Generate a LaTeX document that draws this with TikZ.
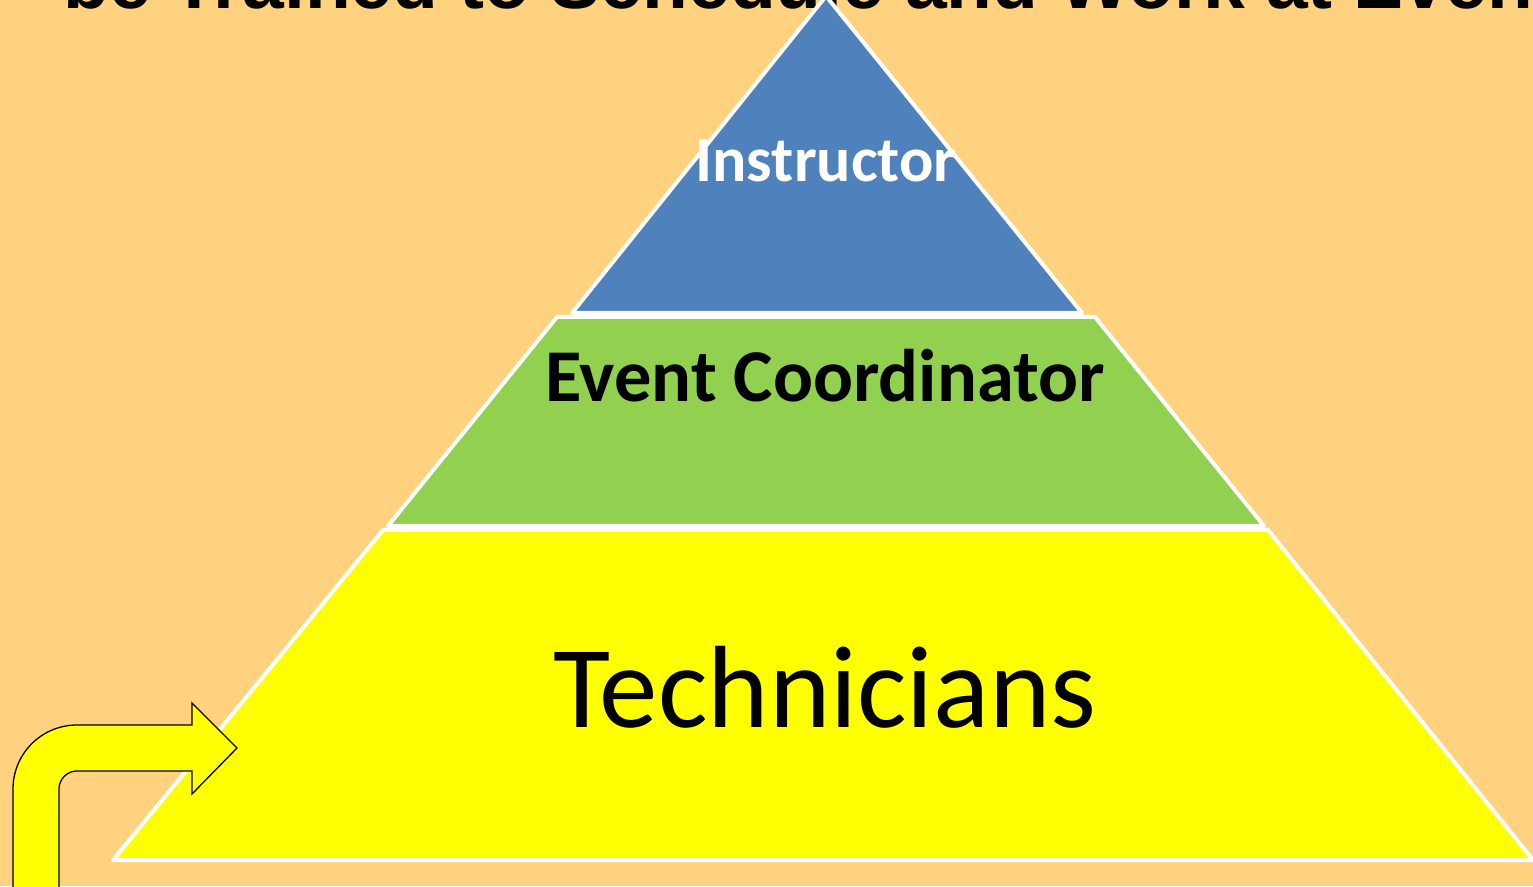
\documentclass[tikz,border=0pt]{standalone}
\usepackage{fontspec}
\usepackage{tikz}
\setmainfont{Carlito}
\newfontfamily\headfont{Liberation Sans}
\definecolor{bgorange}{HTML}{FFD280}
\definecolor{topblue}{HTML}{4F81BD}
\definecolor{midgreen}{HTML}{92D050}
\definecolor{lowyellow}{HTML}{FFFF00}
\tikzset{
  level/.style={draw=white, line width=4pt, line join=round},
  label text/.style={inner sep=0pt, anchor=base},
  bentarrow/.style={fill=lowyellow, draw=black, line width=1.3pt, line join=miter}
}

\begin{document}
\begin{tikzpicture}[x=1pt, y=1pt]
  \useasboundingbox (0,0) rectangle (1533,886);
  \clip (0,0) rectangle (1533,886);
  \fill [bgorange] (0,0) rectangle (1533,886);
  % title line, cut at the top
  \node (title) at (63,877)[inner sep=0pt, anchor=base west]{\headfont\bfseries\fontsize{75}{82}\selectfont be Trained to Schedule and Work at Events};
  % pyramid levels
  \draw [level, fill=lowyellow] (383,356) -- (1268,356) -- (1533,26) -- (113,26) -- cycle;
  \draw [level, fill=midgreen] (557,569) -- (1095,569) -- (1264,360) -- (388,360) -- cycle;
  \draw [level, fill=topblue] (826,890) -- (1082,573) -- (572,573) -- cycle;
  \node (instructor) at (826,704)[label text, text=white]{\bfseries\fontsize{64}{70}\selectfont Instructor};
  \node (coordinator) at (825,484)[label text]{\bfseries\fontsize{74.5}{80}\selectfont Event Coordinator};
  \node (technicians) at (825,158)[label text]{\fontsize{117}{122}\selectfont Technicians};
  % bent arrow
  \draw [bentarrow] (13,-10) -- (13,97) arc (180:90:64) -- (192,161) -- (192,183)
        -- (237,138) -- (192,92) -- (192,115) -- (77,115) arc (90:180:18) -- (59,-10);
\end{tikzpicture}
\end{document}
